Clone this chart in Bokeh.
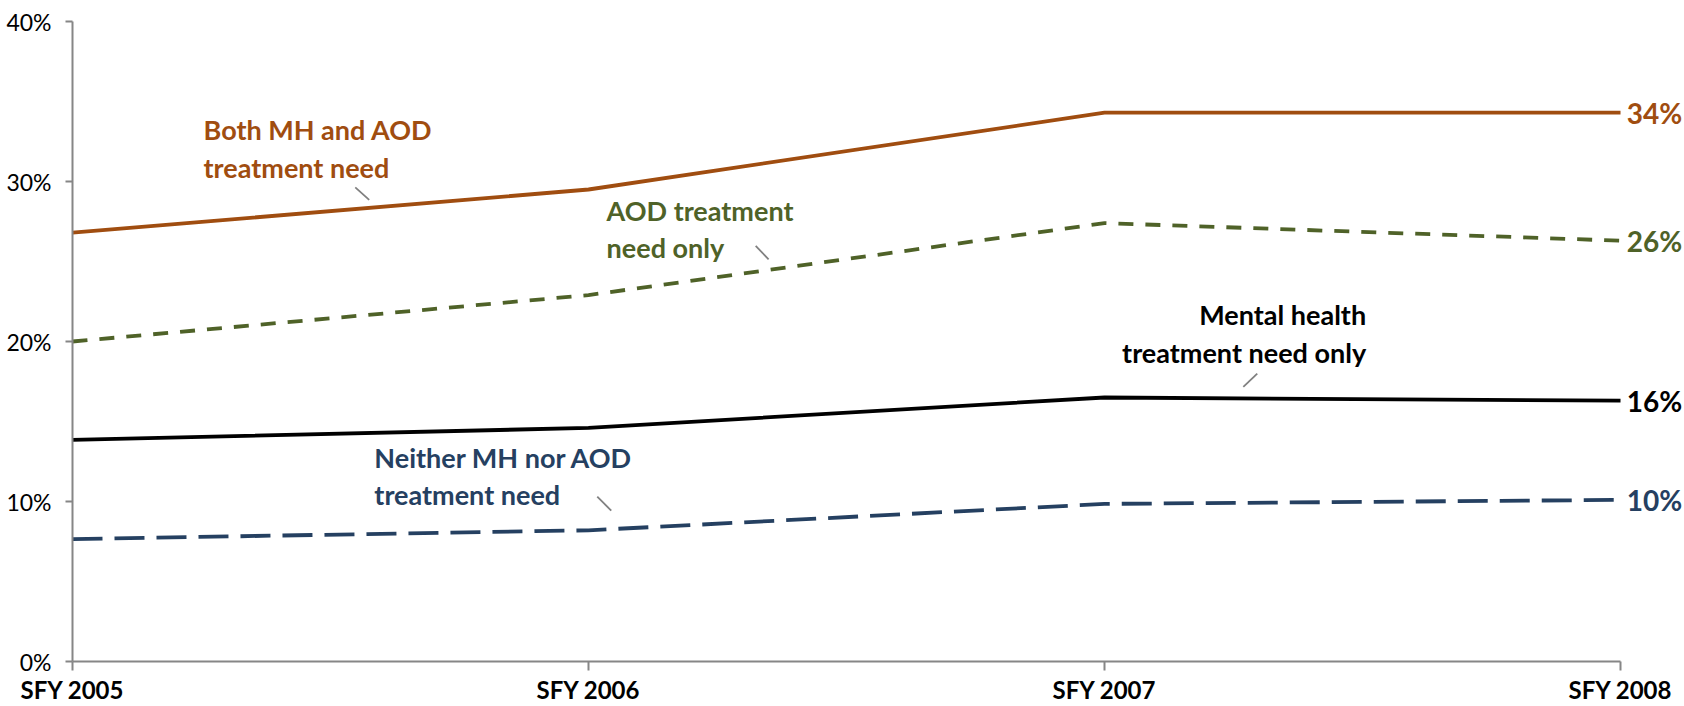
from bokeh.plotting import figure
from bokeh.models import Range1d, FixedTicker
from bokeh.embed import file_html
from bokeh.resources import INLINE
from bokeh.core.properties import value

# data
years = ["SFY 2005", "SFY 2006", "SFY 2007", "SFY 2008"]
both_mh_aod = [26.8, 29.5, 34.3, 34.3]
aod_only = [20.0, 22.9, 27.4, 26.3]
mh_only = [13.85, 14.6, 16.5, 16.3]
neither = [7.65, 8.2, 9.85, 10.1]
end_labels = ["34%", "26%", "16%", "10%"]

xs = list(range(len(years)))

# colours per series
c_both = "#A04D10"
c_aod = "#4F6228"
c_mh = "#000000"
c_neither = "#254061"

FONT = "Lato"

p = figure(width=1684, height=706, output_backend="svg", toolbar_location=None,
           x_range=Range1d(0, 3.124), y_range=Range1d(0, 40),
           min_border_left=72, min_border_right=0, min_border_top=21, min_border_bottom=40)
p.outline_line_color = None
p.grid.visible = False

# axes
p.xaxis.ticker = FixedTicker(ticks=xs)
p.xaxis.major_label_overrides = {i: y for i, y in enumerate(years)}
p.xaxis.bounds = (0, 3)
p.xaxis.minor_tick_line_color = None
p.xaxis.major_tick_in = 0
p.xaxis.major_tick_out = 9
p.xaxis.axis_line_color = "#868686"
p.xaxis.major_tick_line_color = "#868686"
p.xaxis.axis_line_width = 2
p.xaxis.major_tick_line_width = 2
p.xaxis.major_label_text_font = FONT
p.xaxis.major_label_text_font_style = "bold"
p.xaxis.major_label_text_font_size = "24px"
p.xaxis.major_label_text_color = "black"
p.xaxis.major_label_standoff = 4

p.yaxis.ticker = FixedTicker(ticks=[0, 10, 20, 30, 40])
p.yaxis.major_label_overrides = {0: "0%", 10: "10%", 20: "20%", 30: "30%", 40: "40%"}
p.yaxis.minor_tick_line_color = None
p.yaxis.major_tick_in = 0
p.yaxis.major_tick_out = 7
p.yaxis.axis_line_color = "#868686"
p.yaxis.major_tick_line_color = "#868686"
p.yaxis.axis_line_width = 2
p.yaxis.major_tick_line_width = 2
p.yaxis.major_label_text_font = FONT
p.yaxis.major_label_text_font_size = "23px"
p.yaxis.major_label_text_color = "black"
p.yaxis.major_label_standoff = 14

# series lines
p.line(xs, both_mh_aod, line_color=c_both, line_width=3.8)
p.line(xs, aod_only, line_color=c_aod, line_width=3.8, line_dash="15 12")
p.line(xs, mh_only, line_color=c_mh, line_width=3.8)
p.line(xs, neither, line_color=c_neither, line_width=3.8, line_dash="30 12")

# end value labels
ends = [both_mh_aod[-1], aod_only[-1], mh_only[-1], neither[-1]]
cols = [c_both, c_aod, c_mh, c_neither]
for v, lab, c in zip(ends, end_labels, cols):
    p.text(x=[3.012], y=[v], text=[lab], text_color=c, text_font=value(FONT),
           text_font_style="bold", text_font_size="28px", text_baseline="middle", text_align="left")

# series name labels (x, y line1, y line2, align, lines, colour)
name_labels = [
    (0.254, 33.25, 30.9, "left", ["Both MH and AOD", "treatment need"], c_both),
    (1.035, 28.18, 25.85, "left", ["AOD treatment", "need only"], c_aod),
    (2.507, 21.67, 19.29, "right", ["Mental health", "treatment need only"], c_mh),
    (0.585, 12.78, 10.46, "left", ["Neither MH nor AOD", "treatment need"], c_neither),
]
for x, y1, y2, al, lines, c in name_labels:
    p.text(x=[x, x], y=[y1, y2], text=lines, text_color=c, text_font=value(FONT),
           text_font_style="bold", text_font_size="27px", text_baseline="middle", text_align=al)

# leader ticks
leaders = [
    ([0.548, 0.575], [29.63, 28.85]),
    ([1.324, 1.349], [25.97, 25.14]),
    ([2.269, 2.296], [17.16, 17.99]),
    ([1.017, 1.044], [10.30, 9.43]),
]
for lx, ly in leaders:
    p.line(lx, ly, line_color="#808080", line_width=1.8)

open("out.html", "w").write(file_html(p, INLINE))
